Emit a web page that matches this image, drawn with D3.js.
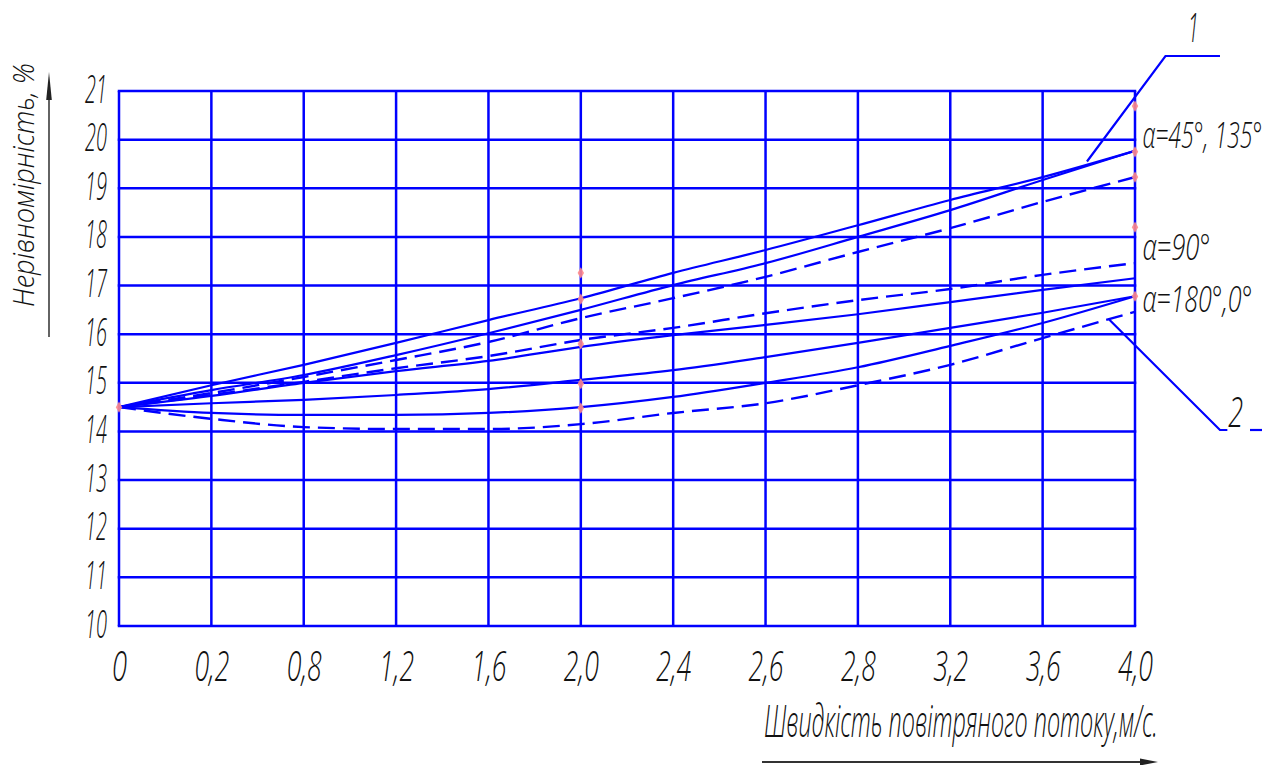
<!DOCTYPE html>
<html>
<head>
<meta charset="utf-8">
<script src="https://cdn.jsdelivr.net/npm/d3@7"></script>
<style>
  html, body { margin: 0; padding: 0; background: #fff; }
  svg { display: block; }
  text { font-family: "Open Sans", "Liberation Sans", sans-serif; font-style: italic; font-weight: 300; fill: #111; }
</style>
</head>
<body>
<svg id="chart" width="1274" height="765"></svg>
<script>
// ---- data ----
const xTickLabels = ["0","0,2","0,8","1,2","1,6","2,0","2,4","2,6","2,8","3,2","3,6","4,0"];
const yTickValues = [10,11,12,13,14,15,16,17,18,19,20,21];

// group α=45°,135° (1)
const s45a   = [14.5,14.95,15.37,15.82,16.29,16.74,17.26,17.73,18.24,18.76,19.23,19.77];
const s45b   = [14.5,14.85,15.16,15.57,16.02,16.5,17.01,17.46,18.0,18.55,19.17,19.77];
const d45    = [14.5,14.79,15.12,15.47,15.84,16.33,16.74,17.18,17.69,18.18,18.72,19.23];
// group α=90°
const d90    = [14.5,14.75,15.02,15.3,15.55,15.88,16.13,16.43,16.7,16.93,17.22,17.46];
const s90    = [14.5,14.73,15.0,15.24,15.45,15.74,15.98,16.19,16.41,16.66,16.91,17.15];
// group α=180°,0° (2)
const s180a  = [14.5,14.58,14.65,14.75,14.87,15.06,15.26,15.53,15.82,16.13,16.44,16.78];
const s180b  = [14.5,14.38,14.34,14.34,14.38,14.5,14.71,15.0,15.32,15.76,16.23,16.78];
const d180   = [14.5,14.26,14.09,14.05,14.05,14.15,14.38,14.58,14.95,15.37,15.92,16.46];

// point markers (index, value)
const markerIdx = [0, 5,5,5,5,5, 11,11,11,11,11];
const markerVal = [14.5, 17.26,16.72,15.8,14.98,14.48, 20.69,19.75,19.23,18.2,16.78];

const solidSeries = [s45a, s45b, s90, s180a, s180b];
const dashedSeries = [d45, d90, d180];

// ---- chart ----
const svg = d3.select("#chart");
const blue = "#0000ff";
const x = d3.scaleLinear().domain([0, 11]).range([119, 1135]);
const y = d3.scaleLinear().domain([10, 21]).range([626, 91]);

// squeeze a text horizontally to a target width using a transform
function fit(node, tx, ty, target, extra) {
  const t = d3.select(node);
  t.attr("x", 0).attr("y", 0);
  const nat = node.getComputedTextLength() || 1;
  t.attr("transform", `translate(${tx},${ty}) ${extra || ""} scale(${target / nat},1)`);
}

// grid
const grid = svg.append("g");
grid.selectAll("line.v").data(d3.range(xTickLabels.length)).join("line")
  .attr("x1", d => x(d)).attr("x2", d => x(d))
  .attr("y1", y(10)).attr("y2", y(21))
  .attr("stroke", blue).attr("stroke-width", 2.5);
grid.selectAll("line.h").data(yTickValues).join("line")
  .attr("x1", x(0) - 1.25).attr("x2", x(11) + 1.25)
  .attr("y1", d => y(d)).attr("y2", d => y(d))
  .attr("stroke", blue).attr("stroke-width", 2.5);

// axes (labels only)
const xAxis = svg.append("g").attr("transform", `translate(0,${y(10)})`)
  .call(d3.axisBottom(x).tickValues(d3.range(xTickLabels.length))
        .tickFormat(i => xTickLabels[i]).tickSize(0));
xAxis.select(".domain").remove();
xAxis.selectAll("text")
  .attr("dy", null).attr("font-size", 43).attr("font-family", null).attr("fill", "#111")
  .each(function(d) { fit(this, 0, 55, xTickLabels[d].length === 1 ? 15 : 35); });

const yAxis = svg.append("g").attr("transform", `translate(${x(0)},0)`)
  .call(d3.axisLeft(y).tickValues(yTickValues).tickFormat(d3.format("d")).tickSize(0).tickPadding(12));
yAxis.select(".domain").remove();
yAxis.selectAll("text")
  .attr("dy", null).attr("font-size", 39).attr("font-family", null).attr("fill", "#111")
  .each(function() { fit(this, -12, 11, 22); });

// lines
const line = d3.line().x((d, i) => x(i)).y(d => y(d)).curve(d3.curveMonotoneX);
svg.append("g").selectAll("path").data(solidSeries).join("path")
  .attr("d", line).attr("fill", "none").attr("stroke", blue).attr("stroke-width", 2.2);
svg.append("g").selectAll("path").data(dashedSeries).join("path")
  .attr("d", line).attr("fill", "none").attr("stroke", blue).attr("stroke-width", 2.4)
  .attr("stroke-dasharray", "17,8");

// markers
svg.append("g").selectAll("path").data(markerIdx.map((m, i) => [m, markerVal[i]])).join("path")
  .attr("d", d3.symbol().type(d3.symbolDiamond).size(36))
  .attr("transform", d => `translate(${x(d[0])},${y(d[1])})`)
  .attr("fill", "#ff8a8a").attr("opacity", 0.9);

// leaders
const lp = d3.line().x(d => x(d[0])).y(d => y(d[1]));
const leader1 = [[10.48, 19.55], [11.33, 21.72], [11.92, 21.72]];
const leader2 = [[10.72, 16.3], [11.92, 14.03], [12.0, 14.03]];
const leader2b = [[12.245, 14.03], [12.375, 14.03]];
[leader1, leader2, leader2b].forEach(p =>
  svg.append("path").attr("d", lp(p)).attr("fill", "none").attr("stroke", blue).attr("stroke-width", 2.2));

svg.append("text").attr("text-anchor", "middle").attr("font-size", 40).text("1")
  .each(function() { fit(this, x(11.63), y(22.0), 11); });
svg.append("text").attr("text-anchor", "middle").attr("font-size", 42).text("2")
  .each(function() { fit(this, x(12.09), y(14.09), 15); });

// alpha labels
const alphaLabels = ["α=45°, 135°", "α=90°", "α=180°,0°"];
const alphaVals = [19.83, 17.52, 16.46];
const alphaLens = [120, 68, 110];
svg.append("g").selectAll("text").data(alphaLabels).join("text")
  .attr("font-size", 36).text(d => d)
  .each(function(d, i) { fit(this, x(11.08), y(alphaVals[i]), alphaLens[i]); });

// axis titles
svg.append("text").attr("font-size", 44).text("Швидкість повітряного потоку,м/с.")
  .each(function() { fit(this, 764, 737, 394); });
svg.append("line").attr("x1", 762).attr("x2", 1142).attr("y1", 762).attr("y2", 762)
  .attr("stroke", "#333").attr("stroke-width", 2);
svg.append("path").attr("d", "M1158,762 L1140,758.5 L1140,765.5 Z").attr("fill", "#222");

svg.append("text").attr("text-anchor", "middle").attr("font-size", 29).text("Нерівномірність, %")
  .each(function() { fit(this, 34, 185, 244, "rotate(-90)"); });
svg.append("line").attr("x1", 49).attr("x2", 49).attr("y1", 337).attr("y2", 96)
  .attr("stroke", "#222").attr("stroke-width", 1.4);
svg.append("path").attr("d", "M49,72 L46.2,100 L51.8,100 Z").attr("fill", "#222");
</script>
</body>
</html>
